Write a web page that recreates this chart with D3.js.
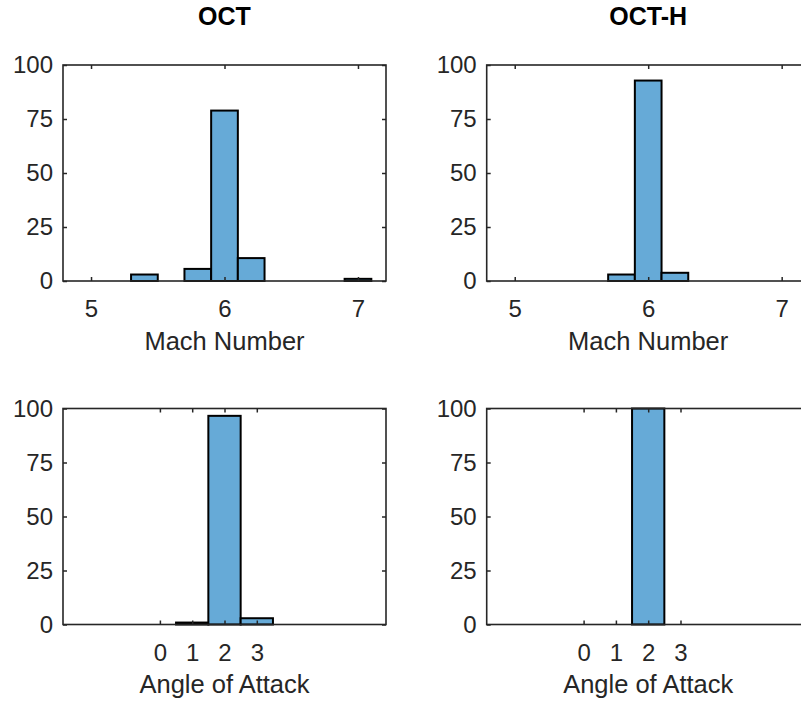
<!DOCTYPE html>
<html>
<head>
<meta charset="utf-8">
<script src="https://cdn.jsdelivr.net/npm/d3@7"></script>
<style>
    body { margin: 0; background: #fff; }
    svg text { font-family: "Liberation Sans", Arial, Helvetica, sans-serif; }
</style>
</head>
<body>
<div id="chart"></div>
<script>
// histogram bins (left/right edges) and percentages
const titles = ["OCT", "OCT-H"];

const octMachEdges = [5.3, 5.5, 5.7, 5.9, 6.1, 6.3, 6.5, 6.7, 6.9, 7.1];
const octMachPct = [3, 0, 5.6, 78.9, 10.6, 0, 0, 0, 1];

const octhMachEdges = [5.7, 5.9, 6.1, 6.3];
const octhMachPct = [3, 92.8, 3.8];

const octAoaEdges = [0.5, 1.5, 2.5, 3.5];
const octAoaPct = [0.9, 96.6, 2.9];

const octhAoaEdges = [1.5, 2.5];
const octhAoaPct = [100];

const machTicks = [5, 6, 7];
const aoaTicks = [0, 1, 2, 3];
const pctTicks = [0, 25, 50, 75, 100];

const width = 801,
    height = 704,
    axW = 323,
    axH = 216,
    tickLen = 4,
    textColor = "#262626",
    barFill = "#66aad7";

const svg = d3.select("#chart").append("svg")
    .attr("width", width)
    .attr("height", height);

function bins(edges, pct) {
    return pct.map((v, i) => ({ x0: edges[i], x1: edges[i + 1], v: v }))
        .filter(d => d.v > 0);
}

function panel(left, top, xDomain, xTicks, data, xLabel, title) {
    const x = d3.scaleLinear().domain(xDomain).range([0, axW]);
    const y = d3.scaleLinear().domain([0, 100]).range([axH, 0]);

    const g = svg.append("g").attr("transform", `translate(${left},${top})`);

    g.selectAll("rect.bar")
        .data(data)
        .enter()
        .append("rect")
        .attr("class", "bar")
        .attr("x", d => x(d.x0))
        .attr("y", d => y(d.v))
        .attr("width", d => x(d.x1) - x(d.x0))
        .attr("height", d => y(0) - y(d.v))
        .attr("fill", barFill)
        .attr("stroke", "#000")
        .attr("stroke-width", 2);

    // inside ticks on all four sides, labels only bottom/left
    g.append("g")
        .attr("transform", `translate(0,${axH})`)
        .call(d3.axisBottom(x).tickValues(xTicks).tickSize(-tickLen).tickPadding(19)
            .tickFormat(d3.format("d")));
    g.append("g")
        .call(d3.axisTop(x).tickValues(xTicks).tickSize(-tickLen).tickFormat(""));
    g.append("g")
        .call(d3.axisLeft(y).tickValues(pctTicks).tickSize(-tickLen).tickPadding(10));
    g.append("g")
        .attr("transform", `translate(${axW},0)`)
        .call(d3.axisRight(y).tickValues(pctTicks).tickSize(-tickLen).tickFormat(""));

    g.selectAll(".domain").remove();
    g.selectAll(".tick line").attr("stroke", textColor).attr("stroke-width", 1.5);
    g.selectAll(".tick text")
        .attr("fill", textColor)
        .attr("font-size", null)
        .style("font-size", "24px");

    g.append("rect")
        .attr("width", axW)
        .attr("height", axH)
        .attr("fill", "none")
        .attr("stroke", textColor)
        .attr("stroke-width", 1.6);

    g.append("text")
        .attr("x", axW / 2)
        .attr("y", axH + 68.5)
        .attr("text-anchor", "middle")
        .attr("fill", textColor)
        .style("font-size", "25.5px")
        .text(xLabel);

    if (title) {
        g.append("text")
            .attr("x", axW / 2)
            .attr("y", -40)
            .attr("text-anchor", "middle")
            .attr("fill", "#000")
            .style("font-size", "25px")
            .style("font-weight", "bold")
            .text(title);
    }
}

const machDomain = [4.79, 7.21],
    aoaDomain = [-3, 7];

panel(63, 65, machDomain, machTicks, bins(octMachEdges, octMachPct), "Mach Number", titles[0]);
panel(486.7, 65, machDomain, machTicks, bins(octhMachEdges, octhMachPct), "Mach Number", titles[1]);
panel(63, 408.5, aoaDomain, aoaTicks, bins(octAoaEdges, octAoaPct), "Angle of Attack");
panel(486.7, 408.5, aoaDomain, aoaTicks, bins(octhAoaEdges, octhAoaPct), "Angle of Attack");
</script>
</body>
</html>
